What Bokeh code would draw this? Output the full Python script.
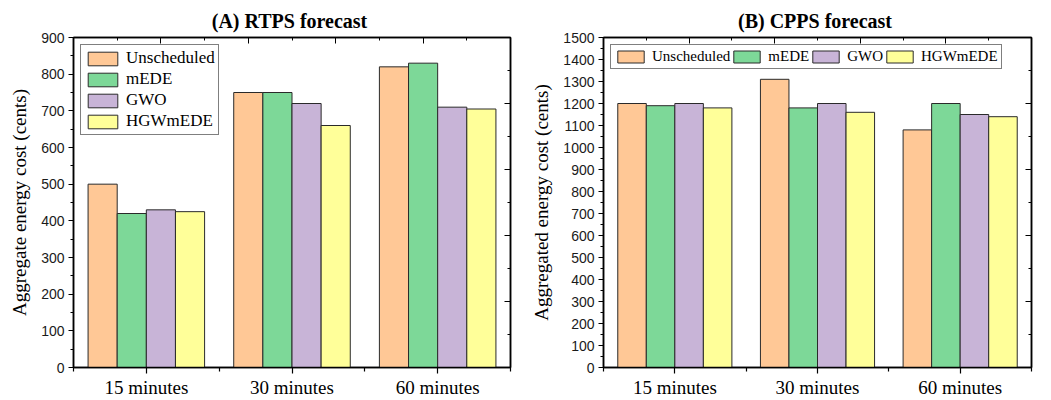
from bokeh.plotting import figure
from bokeh.layouts import row
from bokeh.models import Range1d, LinearAxis, FixedTicker, Legend, LegendItem, ColumnDataSource
from bokeh.transform import dodge
from bokeh.embed import file_html
from bokeh.resources import INLINE

categories = ["15 minutes", "30 minutes", "60 minutes"]
methods = ["Unscheduled", "mEDE", "GWO", "HGWmEDE"]
colors = ["#FFC896", "#7DD898", "#C8B4D7", "#FFFF99"]

rtps_unscheduled = [500, 750, 820]
rtps_mede = [420, 750, 830]
rtps_gwo = [430, 720, 710]
rtps_hgwmede = [425, 660, 705]

cpps_unscheduled = [1200, 1310, 1080]
cpps_mede = [1190, 1180, 1200]
cpps_gwo = [1200, 1200, 1150]
cpps_hgwmede = [1180, 1160, 1140]

SERIF = "Liberation Serif"
SANS = "Liberation Sans"


def panel(title, ylabel, series, ymax, width, bl, br, horizontal, legend_font):
    p = figure(width=width, height=400, x_range=Range1d(0, len(categories)),
               y_range=Range1d(0, ymax), output_backend="svg", toolbar_location=None,
               min_border_left=bl, min_border_right=br, min_border_top=37, min_border_bottom=33)
    p.title.text = title
    p.title.align = "center"
    p.title.text_font = SERIF
    p.title.text_font_style = "bold"
    p.title.text_font_size = "20px"
    p.title.text_color = "black"
    p.title.standoff = 12
    p.xgrid.visible = False
    p.ygrid.visible = False
    p.outline_line_color = "black"
    p.outline_line_width = 1.5
    p.background_fill_color = "white"
    p.border_fill_color = "white"

    pos = [i + 0.5 for i in range(len(categories))]
    data = {"pos": pos}
    for m, s in zip(methods, series):
        data[m] = s
    src = ColumnDataSource(data)
    offsets = [-0.3, -0.1, 0.1, 0.3]
    items = []
    for m, c, off in zip(methods, colors, offsets):
        r = p.vbar(x=dodge("pos", off, range=p.x_range), top=m, width=0.2, source=src,
                   fill_color=c, line_color="#2a2a2a", line_width=1)
        items.append(LegendItem(label=m, renderers=[r]))

    # bottom axis
    xa = p.xaxis[0]
    xa.ticker = FixedTicker(ticks=pos, minor_ticks=list(range(len(categories) + 1)))
    xa.major_label_overrides = {pp: c for pp, c in zip(pos, categories)}
    xa.major_label_text_font = SERIF
    xa.major_label_text_font_size = "19px"
    xa.major_label_text_color = "black"
    xa.major_tick_out = 6
    xa.major_tick_in = 0
    xa.minor_tick_out = 4
    xa.minor_tick_in = 0
    xa.axis_line_width = 1.5
    xa.major_tick_line_width = 1.2
    xa.minor_tick_line_width = 1.2
    xa.major_label_standoff = 3

    # left axis
    ya = p.yaxis[0]
    ya.ticker = FixedTicker(ticks=list(range(0, ymax + 1, 100)),
                            minor_ticks=list(range(50, ymax, 100)))
    ya.major_label_text_font = SANS
    ya.major_label_text_font_size = "14px"
    ya.major_label_text_color = "#1a1a1a"
    ya.major_tick_out = 5
    ya.major_tick_in = 0
    ya.minor_tick_out = 3
    ya.minor_tick_in = 0
    ya.axis_line_width = 1.5
    ya.major_label_standoff = 4
    ya.axis_label = ylabel
    ya.axis_label_text_font = SERIF
    ya.axis_label_text_font_style = "normal"
    ya.axis_label_text_font_size = "19px"
    ya.axis_label_text_color = "black"
    ya.axis_label_standoff = 8

    # mirrored top / right frame ticks (no labels)
    p.extra_x_ranges = {"top": Range1d(0, 10)}
    p.extra_y_ranges = {"right": Range1d(0, 10)}
    frame_ticks = [0, 2, 4, 6, 8, 10]
    for name, loc in (("top", "above"), ("right", "right")):
        kw = {"x_range_name": name} if loc == "above" else {"y_range_name": name}
        ax = LinearAxis(ticker=FixedTicker(ticks=frame_ticks, minor_ticks=[1, 3, 5, 7, 9]),
                        major_tick_in=6, major_tick_out=0, minor_tick_in=3, minor_tick_out=0,
                        major_label_overrides={t: "" for t in frame_ticks},
                        major_label_text_font_size="1px", major_label_standoff=0,
                        axis_line_width=1.5, **kw)
        p.add_layout(ax, loc)

    leg = Legend(items=items, location="top_left", margin=7,
                 orientation="horizontal" if horizontal else "vertical",
                 label_text_font=SERIF, label_text_font_size=legend_font,
                 label_text_color="black",
                 border_line_color="black", border_line_width=1,
                 background_fill_alpha=1.0,
                 padding=3, spacing=0 if horizontal else 1,
                 glyph_width=33 if horizontal else 37,
                 glyph_height=15 if horizontal else 17,
                 label_standoff=5, label_height=17)
    p.add_layout(leg, "center")
    return p


p1 = panel("(A)  RTPS forecast", "Aggregate energy cost (cents)",
           [rtps_unscheduled, rtps_mede, rtps_gwo, rtps_hgwmede], 900, 520, 73, 10, False, "17px")
p2 = panel("(B)  CPPS forecast", "Aggregated energy cost (cents)",
           [cpps_unscheduled, cpps_mede, cpps_gwo, cpps_hgwmede], 1500, 531, 83, 20, True, "15px")

layout = row(p1, p2)
open("out.html", "w").write(file_html(layout, INLINE))
